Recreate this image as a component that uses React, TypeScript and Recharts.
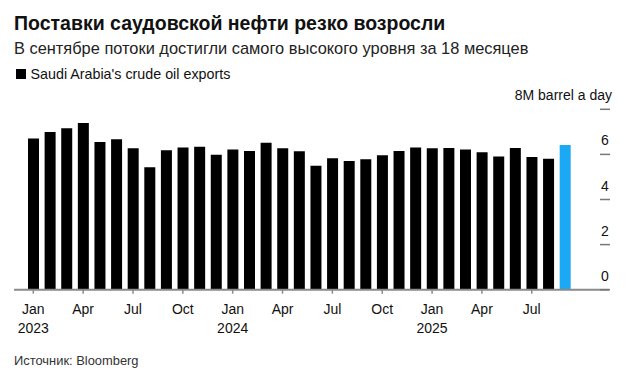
import React from 'react';
import { BarChart, Bar, XAxis, YAxis, Cell } from 'recharts';

// месяцы, янв 2023 - сен 2025
const months = [
  'Jan 2023', 'Feb 2023', 'Mar 2023', 'Apr 2023', 'May 2023', 'Jun 2023',
  'Jul 2023', 'Aug 2023', 'Sep 2023', 'Oct 2023', 'Nov 2023', 'Dec 2023',
  'Jan 2024', 'Feb 2024', 'Mar 2024', 'Apr 2024', 'May 2024', 'Jun 2024',
  'Jul 2024', 'Aug 2024', 'Sep 2024', 'Oct 2024', 'Nov 2024', 'Dec 2024',
  'Jan 2025', 'Feb 2025', 'Mar 2025', 'Apr 2025', 'May 2025', 'Jun 2025',
  'Jul 2025', 'Aug 2025', 'Sep 2025',
];

// млн баррелей в день
const exports = [
  6.71, 6.99, 7.16, 7.39, 6.55, 6.67, 6.27, 5.43, 6.18, 6.31, 6.34, 5.99,
  6.22, 6.15, 6.52, 6.27, 6.14, 5.5, 5.83, 5.71, 5.78, 5.96, 6.15, 6.31,
  6.27, 6.28, 6.22, 6.09, 5.91, 6.28, 5.88, 5.81, 6.42,
];

const yTicks = [0, 2, 4, 6, 8];

const FONT = '"Liberation Sans", Arial, Helvetica, sans-serif';

const data = months.map((m, i) => ({ month: m, value: exports[i] }));

const XTick = (props: any) => {
  const { x, y, payload } = props;
  const [mon, yr] = String(payload.value).split(' ');
  return (
    <g>
      <text x={x} y={y + 18.6} textAnchor="middle" fontSize={14} fill="#111" fontFamily={FONT}>
        {mon}
      </text>
      {mon === 'Jan' && (
        <text x={x} y={y + 37} textAnchor="middle" fontSize={14} fill="#111" fontFamily={FONT}>
          {yr}
        </text>
      )}
    </g>
  );
};

const YTick = (props: any) => {
  const { x, y, payload } = props;
  const top = payload.value === 8;
  return (
    <g>
      <line x1={x - 9} x2={x + 1} y1={y} y2={y} stroke="#777" strokeWidth={1.5} />
      <text
        x={top ? x + 3 : x - 4}
        y={y - 9}
        textAnchor={top ? 'end' : 'middle'}
        fontSize={14}
        fill="#111"
        fontFamily={FONT}
      >
        {top ? '8M barrel a day' : payload.value}
      </text>
    </g>
  );
};

const App: React.FC = () => {
  return (
    <div style={{ position: 'absolute', left: 0, top: 0, width: 634, height: 376, background: '#fff', fontFamily: FONT, color: '#111' }}>
      <div style={{ position: 'absolute', left: 14, top: 14.2, fontSize: 19.5, lineHeight: '19.5px', fontWeight: 700, whiteSpace: 'nowrap' }}>
        Поставки саудовской нефти резко возросли
      </div>
      <div style={{ position: 'absolute', left: 14, top: 40.4, fontSize: 16.4, lineHeight: '16.4px', color: '#222', whiteSpace: 'nowrap' }}>
        В сентябре потоки достигли самого высокого уровня за 18 месяцев
      </div>
      <div style={{ position: 'absolute', left: 16, top: 69, width: 10, height: 10, background: '#000' }} />
      <div style={{ position: 'absolute', left: 30.5, top: 66.6, fontSize: 14.3, lineHeight: '14.3px', color: '#111', whiteSpace: 'nowrap' }}>
        Saudi Arabia's crude oil exports
      </div>

      <div style={{ position: 'absolute', left: 0, top: 0 }}>
        <BarChart
          width={634}
          height={376}
          data={data}
          margin={{ top: 109.3, right: 24, bottom: 36.3, left: 14 }}
        >
          <XAxis
            dataKey="month"
            height={50}
            interval={2}
            padding={{ left: 11, right: 35.7 }}
            axisLine={{ stroke: '#8a8a8a', strokeWidth: 2 }}
            tickLine={{ stroke: '#8a8a8a', strokeWidth: 1.5 }}
            tickSize={4}
            tickMargin={2}
            tick={<XTick />}
          />
          <YAxis
            orientation="right"
            width={1}
            domain={[0, 8]}
            ticks={yTicks}
            axisLine={false}
            tickLine={false}
            tickSize={0}
            tickMargin={0}
            tick={<YTick />}
            allowDataOverflow
          />
          <Bar dataKey="value" barSize={11} isAnimationActive={false}>
            {data.map((d, i) => (
              <Cell key={d.month} fill={i === data.length - 1 ? '#1ba9f5' : '#000'} />
            ))}
          </Bar>
        </BarChart>
      </div>

      <div style={{ position: 'absolute', left: 14, top: 355.1, fontSize: 12.9, lineHeight: '12.9px', color: '#333', whiteSpace: 'nowrap' }}>
        Источник: Bloomberg
      </div>
    </div>
  );
};

export default App;
